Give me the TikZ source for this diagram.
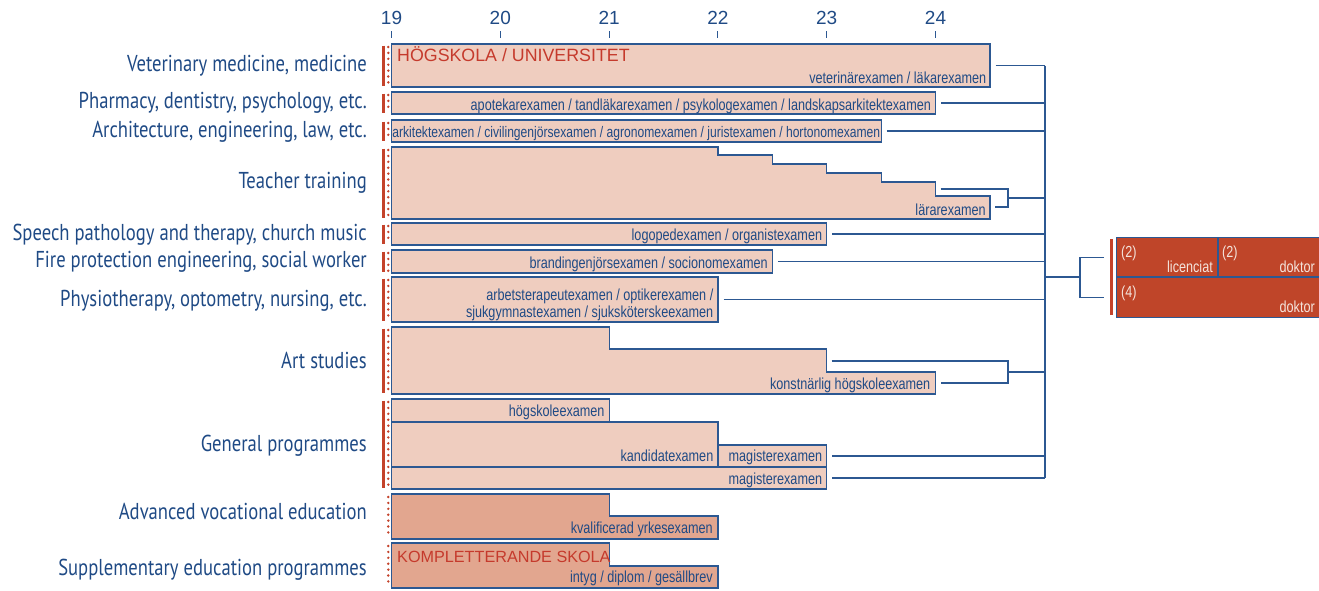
\documentclass[tikz,border=0pt]{standalone}
\usepackage{fontspec}
\setmainfont{Liberation Sans}
\newfontfamily\narrowfont{Liberation Sans}[FakeStretch=0.79]
\newfontfamily\labelfont{PT Sans}[FakeStretch=0.81]
\usetikzlibrary{fit,positioning}
\definecolor{boxFill}{HTML}{EFCDBF}
\definecolor{vocFill}{HTML}{E2A68F}
\definecolor{edgeBlue}{HTML}{2C5892}
\definecolor{textBlue}{HTML}{1F4A85}
\definecolor{uniRed}{HTML}{C53A2C}
\definecolor{barRed}{HTML}{C4432B}
\definecolor{phdFill}{HTML}{BF4529}
\definecolor{phdText}{HTML}{F4E4DC}
% x position of an age on the axis (19 -> 391.5, 108.8 per year)
\newcommand{\yr}[1]{#1*108.8-1675.7}
% column of red dots beside a row, from top #1 to bottom #2
\newcommand{\dotcol}[2]{%
  \pgfmathtruncatemacro{\ndots}{(#2-#1-5)/5.9}%
  \foreach \k in {0,...,\ndots}
    \fill[barRed] (388.3,#1+3+5.9*\k) circle[radius=1.35pt];}

\tikzset{
  box/.style={draw=edgeBlue,fill=boxFill,line width=1.2pt,inner sep=0pt},
  phd/.style={draw=edgeBlue,fill=phdFill,line width=1.2pt,inner sep=0pt},
  exam/.style={text=textBlue,font=\narrowfont\fontsize{16}{16.5}\selectfont,inner sep=0pt,anchor=base east},
  phdlabel/.style={text=phdText,font=\narrowfont\fontsize{16}{16.5}\selectfont,inner sep=0pt},
  school/.style={text=uniRed,font=\fontsize{17.8}{18}\selectfont,inner sep=0pt,anchor=base west},
  sector/.style={text=textBlue,font=\labelfont\fontsize{23}{25}\selectfont,inner sep=0pt,anchor=base east},
  axisnum/.style={text=textBlue,font=\fontsize{19}{20}\selectfont,inner sep=0pt,anchor=base},
  link/.style={draw=edgeBlue,line width=1.1pt},
  solidbar/.style={draw=barRed,line width=3pt},
}

\begin{document}
\begin{tikzpicture}[x=1pt,y=-1pt]
\useasboundingbox (0,0) rectangle (1319,590);

% age axis
\foreach \t in {19,...,24}{
  \node[axisnum] (yr\t) at (\yr{\t},24) {\t};
  \draw[link] (\yr{\t},31) -- (\yr{\t},38);
}

% sector labels
\node[sector] (s-vet) at (367,71) {Veterinary medicine, medicine};
\node[sector] (s-pharm) at (367,108) {Pharmacy, dentistry, psychology, etc.};
\node[sector] (s-arch) at (367,137) {Architecture, engineering, law, etc.};
\node[sector] (s-teach) at (367,188) {Teacher training};
\node[sector] (s-speech) at (367,240) {Speech pathology and therapy, church music};
\node[sector] (s-fire) at (367,267) {Fire protection engineering, social worker};
\node[sector] (s-physio) at (367,306) {Physiotherapy, optometry, nursing, etc.};
\node[sector] (s-art) at (367,368) {Art studies};
\node[sector] (s-gen) at (367,451) {General programmes};
\node[sector] (s-voc) at (367,519) {Advanced vocational education};
\node[sector] (s-supp) at (367,575) {Supplementary education programmes};

% red markers
\foreach \a/\b in {44/87,92/114,120/142,147/219,223/245,250/273,277/322,327/394,399/489}{
  \draw[solidbar] (383.2,\a+1.5) -- (383.2,\b-1.5);
  \dotcol{\a}{\b}
}
\foreach \a/\b in {494/539,543/588}{\dotcol{\a}{\b}}

% hogskola / universitet
\node[box,fit={(\yr{19},44) (\yr{24.5},87)}] (vet) {};
\node[school] (uni) at (397,61) {HÖGSKOLA / UNIVERSITET};
\node[exam] (vet-x) at ([shift={(-4pt,4pt)}]vet.south east) {veterinärexamen / läkarexamen};

\node[box,fit={(\yr{19},92) (\yr{24},114)}] (pharm) {};
\node[exam] (pharm-x) at ([shift={(-5pt,4pt)}]pharm.south east) {apotekarexamen / tandläkarexamen / psykologexamen / landskapsarkitektexamen};

\node[box,fit={(\yr{19},120) (\yr{23.5},142)}] (arch) {};
\node[exam,anchor=base,font=\narrowfont\fontsize{15.3}{16}\selectfont] (arch-x) at ([yshift=5pt]arch.south)
  {arkitektexamen / civilingenjörsexamen / agronomexamen / juristexamen / hortonomexamen};

\draw[box] (\yr{19},147) -| (\yr{22},155) -| (\yr{22.5},164) -| (\yr{23},173)
  -| (\yr{23.5},182) -| (\yr{24},196) -| (\yr{24.5},219) -- (\yr{19},219) -- cycle;
\coordinate (teach-se) at (\yr{24.5},219);
\node[exam] (teach-x) at ([shift={(-4pt,4pt)}]teach-se) {lärarexamen};
\coordinate (teach-a) at (\yr{24}+5,189);
\coordinate (teach-b) at (\yr{24.5}+5,207);
\coordinate (teach-j) at (1008,198);

\node[box,fit={(\yr{19},223) (\yr{23},245)}] (speech) {};
\node[exam] (speech-x) at ([shift={(-5pt,5pt)}]speech.south east) {logopedexamen / organistexamen};

\node[box,fit={(\yr{19},250) (\yr{22.5},273)}] (fire) {};
\node[exam] (fire-x) at ([shift={(-5pt,5pt)}]fire.south east) {brandingenjörsexamen / socionomexamen};

\node[box,fit={(\yr{19},277) (\yr{22},322)}] (physio) {};
\node[exam,anchor=south east,align=right] (physio-x) at ([shift={(-5pt,2pt)}]physio.south east)
  {arbetsterapeutexamen / optikerexamen /\\sjukgymnastexamen / sjuksköterskeexamen};

\draw[box] (\yr{19},327) -| (\yr{21},349) -| (\yr{23},372) -| (\yr{24},394) -- (\yr{19},394) -- cycle;
\coordinate (art-se) at (\yr{24},394);
\node[exam] (art-x) at ([shift={(-5pt,5pt)}]art-se) {konstnärlig högskoleexamen};
\coordinate (art-a) at (\yr{23}+5,361);
\coordinate (art-b) at (\yr{24}+5,383);
\coordinate (art-j) at (1008,372);

\node[box,fit={(\yr{19},399) (\yr{21},422)}] (hogsk) {};
\node[exam] (hogsk-x) at ([shift={(-5pt,6pt)}]hogsk.south east) {högskoleexamen};
\node[box,fit={(\yr{19},422) (\yr{22},467)}] (kand) {};
\node[exam] (kand-x) at ([shift={(-5pt,6pt)}]kand.south east) {kandidatexamen};
\node[box,fit={(\yr{22},445) (\yr{23},467)}] (mag1) {};
\node[exam] (mag1-x) at ([shift={(-5pt,6pt)}]mag1.south east) {magisterexamen};
\node[box,fit={(\yr{19},467) (\yr{23},489)}] (mag2) {};
\node[exam] (mag2-x) at ([shift={(-5pt,5pt)}]mag2.south east) {magisterexamen};

% vocational and supplementary
\draw[box,fill=vocFill] (\yr{19},494) -| (\yr{21},516) -| (\yr{22},539) -- (\yr{19},539) -- cycle;
\coordinate (voc-se) at (\yr{22},539);
\node[exam] (voc-x) at ([shift={(-5pt,6pt)}]voc-se) {kvalificerad yrkesexamen};

\draw[box,fill=vocFill] (\yr{19},543) -| (\yr{21},566) -| (\yr{22},588) -- (\yr{19},588) -- cycle;
\node[school,font=\fontsize{16.2}{17}\selectfont] (komp) at (397,562) {KOMPLETTERANDE SKOLA};
\coordinate (supp-se) at (\yr{22},588);
\node[exam] (supp-x) at ([shift={(-5pt,6pt)}]supp-se) {intyg / diplom / gesällbrev};

% doctoral level
\node[phd,fit={(1116.7,237.3) (1218,277)}] (lic) {};
\node[phd,fit={(1218,237.3) (1322,277)}] (dok2) {};
\node[phd,fit={(1116.7,277) (1322,317.3)}] (dok4) {};
\draw[solidbar] (1111.7,239) -- (1111.7,315);
\node[phdlabel,anchor=base west] (lic-n) at (1121,257) {(2)};
\node[phdlabel,anchor=base east] (lic-x) at (1213,272) {licenciat};
\node[phdlabel,anchor=base west] (dok2-n) at (1222,257) {(2)};
\node[phdlabel,anchor=base east] (dok2-x) at (1315,272) {doktor};
\node[phdlabel,anchor=base west] (dok4-n) at (1121,297) {(4)};
\node[phdlabel,anchor=base east] (dok4-x) at (1315,312) {doktor};

% connectors
\coordinate (trunk) at (1045,277);
\foreach \b in {vet,pharm,arch,speech,fire,physio,mag1,mag2}
  \draw[link] ([xshift=5pt]\b.east) -- (\b.east -| trunk);
\draw[link] (vet.east -| trunk) -- (mag2.east -| trunk);
\draw[link] (teach-a) -| (teach-j) |- (teach-b);
\draw[link] (teach-j) -- (teach-j -| trunk);
\draw[link] (art-a) -| (art-j) |- (art-b);
\draw[link] (art-j) -- (art-j -| trunk);
\coordinate (phd-j) at (1080,277);
\draw[link] (trunk) -- (phd-j);
\draw[link] ([xshift=-12pt]lic.west) -| (phd-j) |- ([xshift=-12pt]dok4.west);
\end{tikzpicture}
\end{document}
